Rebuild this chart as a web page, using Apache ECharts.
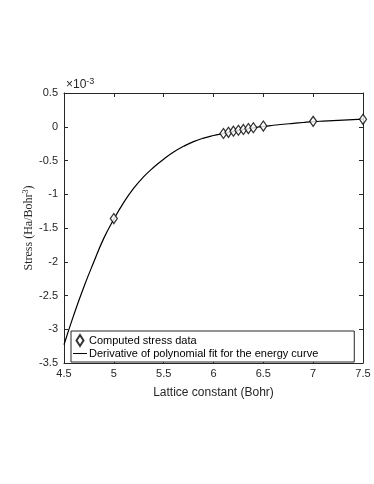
<!DOCTYPE html>
<html style="height: 100%">
<head>
  <meta charset="utf-8">
</head>
<body style="height: 100%; margin: 0; background: #fff">
  <div id="container" style="height: 100%"></div>
  <script type="text/javascript" src="https://cdn.jsdelivr.net/npm/echarts@6/dist/echarts.min.js"></script>
  <script type="text/javascript">
    // stress values in units of 1e-3 Ha/Bohr^3
    var dataX = [5.0, 6.1, 6.15, 6.2, 6.25, 6.3, 6.35, 6.4, 6.5, 7.0, 7.5];
    var dataY = [-1.36, -0.10, -0.082, -0.066, -0.052, -0.04, -0.027, -0.015, 0.01, 0.08, 0.11];
    var fitX = [4.5, 4.6, 4.7, 4.8, 4.9, 5.0, 5.1, 5.2, 5.3, 5.4, 5.5, 5.6, 5.7, 5.8, 5.9, 6.0,
      6.1, 6.2, 6.3, 6.4, 6.5, 6.6, 6.7, 6.8, 6.9, 7.0, 7.1, 7.2, 7.3, 7.4, 7.5];
    var fitY = [-3.23, -2.78, -2.37, -2.00, -1.65, -1.37, -1.12, -0.91, -0.74, -0.60, -0.48, -0.375, -0.29, -0.22, -0.168, -0.13,
      -0.10, -0.068, -0.04, -0.016, 0.005, 0.022, 0.037, 0.05, 0.063, 0.075, 0.084, 0.092, 0.099, 0.106, 0.112];

    var dom = document.getElementById("container");
    var myChart = echarts.init(dom);
    var font = 'Liberation Sans, Arial, sans-serif';

    function pairs(xs, ys) {
      return xs.map(function (x, i) { return [x, ys[i]]; });
    }
    function fmt(v) {
      return String(Math.round(v * 10) / 10);
    }
    var tick = { show: true, inside: true, length: 4, lineStyle: { color: '#262626' } };
    var line = { onZero: false, lineStyle: { color: '#262626' } };

    option = {
      animation: false,
      grid: { left: 64, right: 11, top: 93, bottom: 121 },
      xAxis: [{
        type: 'value', min: 4.5, max: 7.5, interval: 0.5,
        name: 'Lattice constant (Bohr)', nameLocation: 'middle', nameGap: 24,
        nameTextStyle: { fontFamily: font, fontSize: 12, color: '#262626' },
        axisLine: line,
        axisTick: tick,
        axisLabel: { fontFamily: font, fontSize: 11, color: '#262626', margin: 5, formatter: fmt },
        splitLine: { show: false }
      }, {
        type: 'value', min: 4.5, max: 7.5, interval: 0.5, position: 'top',
        axisLine: line,
        axisTick: tick, axisLabel: { show: false }, splitLine: { show: false }
      }],
      yAxis: [{
        type: 'value', min: -3.5, max: 0.5, interval: 0.5,
        name: 'Stress (Ha/Bohr{s|3})', nameLocation: 'middle', nameGap: 28, nameMoveOverlap: false,
        nameTextStyle: {
          fontFamily: 'Liberation Serif, DejaVu Serif, serif', fontSize: 12, color: '#262626',
          rich: { s: { fontFamily: 'Liberation Serif, serif', fontSize: 8, verticalAlign: 'top', padding: [0, 0, 6, 0] } }
        },
        axisLine: line,
        axisTick: tick,
        axisLabel: { fontFamily: font, fontSize: 11, color: '#262626', margin: 6, formatter: fmt },
        splitLine: { show: false }
      }, {
        type: 'value', min: -3.5, max: 0.5, interval: 0.5, position: 'right',
        axisLine: line,
        axisTick: tick, axisLabel: { show: false }, splitLine: { show: false }
      }],
      legend: {
        orient: 'vertical', left: 71, top: 331,
        padding: [3, 36, 3, 2], itemGap: 1, itemWidth: 14, itemHeight: 11,
        borderColor: '#262626', borderWidth: 1, backgroundColor: '#fff',
        textStyle: { fontFamily: font, fontSize: 11, color: '#000', padding: [0, 0, 0, -3] },
        data: [{ name: 'Computed stress data', icon: 'path://M7,0L10.5,5.5L7,11L3.5,5.5Z' },
               { name: 'Derivative of polynomial fit for the energy curve', icon: 'path://M0,5L14,5L14,6L0,6Z' }]
      },
      graphic: [{
        type: 'text', left: 66, top: 77,
        style: {
          text: '×10{s|-3}', fontFamily: font, fontSize: 12, fill: '#262626',
          rich: { s: { fontSize: 9, verticalAlign: 'top', padding: [0, 0, 7, 0], fill: '#262626', fontFamily: font } }
        }
      }],
      series: [{
        name: 'Derivative of polynomial fit for the energy curve',
        type: 'line', data: pairs(fitX, fitY), smooth: true, showSymbol: false,
        lineStyle: { color: '#000', width: 1.2 }, itemStyle: { color: '#000' }, z: 2
      }, {
        name: 'Computed stress data',
        type: 'scatter', data: pairs(dataX, dataY),
        symbol: 'diamond', symbolSize: [7, 10],
        itemStyle: { color: '#fff', borderColor: '#000', borderWidth: 1.3 }, z: 3
      }]
    };
    myChart.setOption(option);
  </script>
</body>
</html>
